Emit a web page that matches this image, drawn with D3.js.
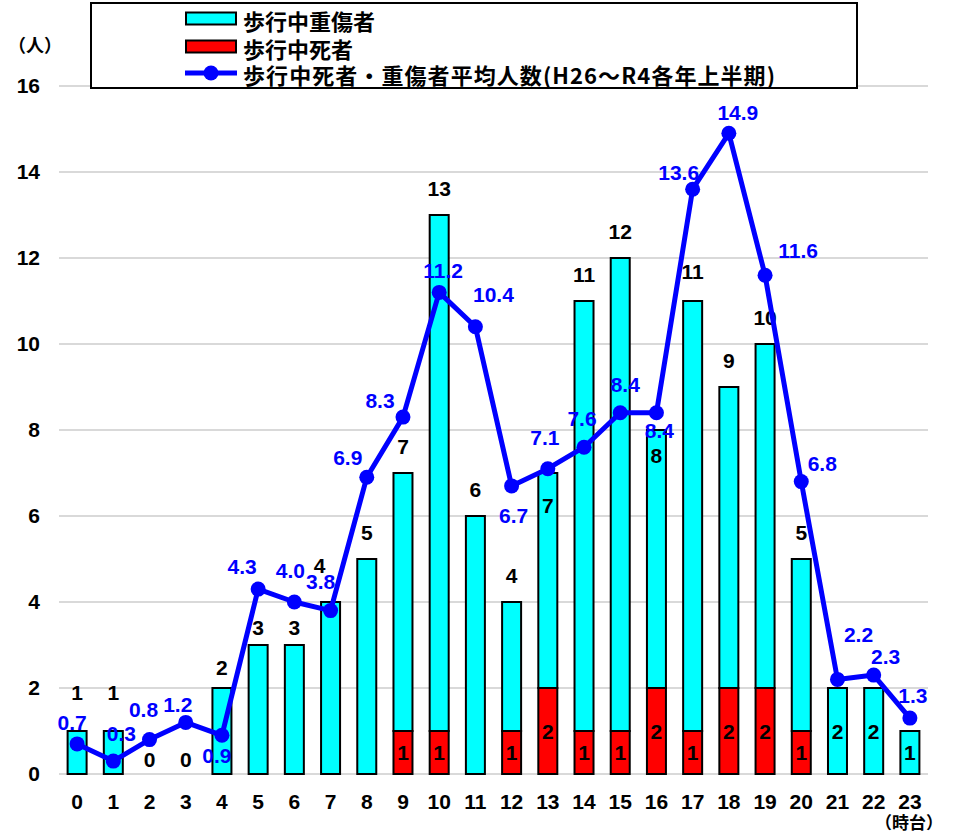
<script src="https://d3js.org/d3.v7.min.js"></script>
<html>
<head>
<style>
  body { margin: 0; background: #fff; }
  text { font-family: "Liberation Sans", Arial, sans-serif; font-weight: bold; }
  .jp { font-family: "Noto Sans CJK JP", sans-serif; font-weight: bold; }
</style>
</head>
<body>
<script>
// data: hour of day (0-23)
var hours = d3.range(0, 24);
var serious = [1, 1, 0, 0, 2, 3, 3, 4, 5, 6, 12, 6, 3, 5, 10, 11, 6, 10, 7, 8, 4, 2, 2, 1];
var deaths  = [0, 0, 0, 0, 0, 0, 0, 0, 0, 1, 1, 0, 1, 2, 1, 1, 2, 1, 2, 2, 1, 0, 0, 0];
var average = [0.7, 0.3, 0.8, 1.2, 0.9, 4.3, 4.0, 3.8, 6.9, 8.3, 11.2, 10.4, 6.7, 7.1, 7.6, 8.4, 8.4, 13.6, 14.9, 11.6, 6.8, 2.2, 2.3, 1.3];
var yTicks = [0, 2, 4, 6, 8, 10, 12, 14, 16];
var legendNames = ["歩行中重傷者", "歩行中死者", "歩行中死者・重傷者平均人数(H26～R4各年上半期)"];

// hand placed label nudges (px) as in the original sheet
var totalLabelDy = {0: -39, 1: -39, 2: -15, 3: -15, 4: -21, 5: -18, 6: -18, 7: -37, 13: 32, 16: 25, 17: -30};
var totalLabelDx = {7: -11};
var avgLabelNudge = [[-5,-21],[8,-28],[-6,-30],[-8,-18],[-5,20],[-16,-23],[-4,-32],[-10,-29],[-19,-20],[-23,-17],
  [4,-22],[18,-32],[2,30],[-3,-31],[-2,-29],[5,-28],[3,18],[-14,-17],[9,-21],[33,-25],[21,-18],[21,-45],[12,-19],[3,-23]];

var W = 964, H = 832;
var margin = {top: 86, left: 59, right: 36, bottom: 58};
var fs = 21;

var svg = d3.select("body").append("svg")
  .attr("width", W)
  .attr("height", H);

var x = d3.scaleBand()
  .domain(hours)
  .range([margin.left, W - margin.right])
  .paddingInner(0)
  .paddingOuter(0);

var y = d3.scaleLinear()
  .domain([0, 16])
  .range([H - margin.bottom, H - margin.bottom - 688]);

// gridlines
svg.append("g").selectAll("line")
  .data(yTicks)
  .enter().append("line")
  .attr("x1", x.range()[0])
  .attr("x2", x.range()[1])
  .attr("y1", function(d){ return y(d); })
  .attr("y2", function(d){ return y(d); })
  .attr("stroke", "#d9d9d9")
  .attr("stroke-width", 2);

// y axis labels
var yAx = d3.axisLeft(y).tickValues(yTicks).tickSize(0).tickPadding(0);
var yGroup = svg.append("g")
  .attr("transform", "translate(40,0)")
  .call(yAx);
yGroup.select(".domain").remove();
yGroup.selectAll("text")
  .attr("font-size", fs)
  .attr("font-family", "Liberation Sans, Arial, sans-serif")
  .attr("fill", "#000");

// x axis labels
var xAx = d3.axisBottom(x).tickSize(0).tickPadding(0);
var xGroup = svg.append("g")
  .attr("transform", "translate(0," + (y(0) + 20) + ")")
  .call(xAx);
xGroup.select(".domain").remove();
xGroup.selectAll("text")
  .attr("font-size", fs)
  .attr("font-family", "Liberation Sans, Arial, sans-serif")
  .attr("fill", "#000");

// stacked bars
var barW = 19;
var stack = hours.map(function(h, i){
  return {h: h, d: deaths[i], s: serious[i], total: deaths[i] + serious[i]};
});

var bars = svg.append("g");
bars.selectAll("rect.death")
  .data(stack.filter(function(d){ return d.d > 0; }))
  .enter().append("rect")
  .attr("class", "death")
  .attr("x", function(d){ return x(d.h) + x.bandwidth()/2 - barW/2; })
  .attr("y", function(d){ return y(d.d); })
  .attr("width", barW)
  .attr("height", function(d){ return y(0) - y(d.d); })
  .attr("fill", "#ff0000")
  .attr("stroke", "#000")
  .attr("stroke-width", 2);

bars.selectAll("rect.serious")
  .data(stack.filter(function(d){ return d.s > 0; }))
  .enter().append("rect")
  .attr("class", "serious")
  .attr("x", function(d){ return x(d.h) + x.bandwidth()/2 - barW/2; })
  .attr("y", function(d){ return y(d.total); })
  .attr("width", barW)
  .attr("height", function(d){ return y(d.d) - y(d.total); })
  .attr("fill", "#00ffff")
  .attr("stroke", "#000")
  .attr("stroke-width", 2);

// death count labels inside red segments
bars.selectAll("text.dl")
  .data(stack.filter(function(d){ return d.d > 0; }))
  .enter().append("text")
  .attr("class", "dl")
  .attr("x", function(d){ return x(d.h) + x.bandwidth()/2; })
  .attr("y", function(d){ return y(d.d / 2); })
  .attr("text-anchor", "middle")
  .attr("dominant-baseline", "central")
  .attr("font-size", fs)
  .text(function(d){ return d.d; });

// total labels
bars.selectAll("text.tl")
  .data(stack)
  .enter().append("text")
  .attr("class", "tl")
  .attr("x", function(d){ return x(d.h) + x.bandwidth()/2 + (totalLabelDx[d.h] || 0); })
  .attr("y", function(d){
    if (d.h >= 21) return y(d.total / 2);
    var dy = (d.h in totalLabelDy) ? totalLabelDy[d.h] : -27;
    return y(d.total) + dy;
  })
  .attr("text-anchor", "middle")
  .attr("dominant-baseline", "central")
  .attr("font-size", fs)
  .text(function(d){ return d.total; });

// average line
var line = d3.line()
  .x(function(d, i){ return x(hours[i]) + x.bandwidth()/2; })
  .y(function(d){ return y(d); });

svg.append("path")
  .datum(average)
  .attr("d", line)
  .attr("fill", "none")
  .attr("stroke", "#0000ff")
  .attr("stroke-width", 5)
  .attr("stroke-linejoin", "round");

svg.append("g").selectAll("circle")
  .data(average)
  .enter().append("circle")
  .attr("cx", function(d, i){ return x(hours[i]) + x.bandwidth()/2; })
  .attr("cy", function(d){ return y(d); })
  .attr("r", 7.5)
  .attr("fill", "#0000ff");

svg.append("g").selectAll("text")
  .data(average)
  .enter().append("text")
  .attr("x", function(d, i){ return x(hours[i]) + x.bandwidth()/2 + avgLabelNudge[i][0]; })
  .attr("y", function(d, i){ return y(d) + avgLabelNudge[i][1]; })
  .attr("text-anchor", "middle")
  .attr("dominant-baseline", "central")
  .attr("font-size", fs)
  .attr("fill", "#0000ff")
  .text(function(d){ return d.toFixed(1); });

// unit labels
svg.append("text")
  .attr("class", "jp")
  .attr("x", 8)
  .attr("y", 44)
  .attr("dominant-baseline", "central")
  .attr("font-size", 18)
  .text("（人）");

svg.append("text")
  .attr("class", "jp")
  .attr("x", 875)
  .attr("y", 821)
  .attr("dominant-baseline", "central")
  .attr("font-size", 17)
  .text("（時台）");

// legend
var legend = svg.append("g");
legend.append("rect")
  .attr("x", 91)
  .attr("y", 3)
  .attr("width", 766)
  .attr("height", 85)
  .attr("fill", "#fff")
  .attr("stroke", "#000")
  .attr("stroke-width", 2);

var rowY = [18.5, 46.5, 73];
legend.append("rect")
  .attr("x", 186).attr("y", rowY[0] - 6)
  .attr("width", 50).attr("height", 12)
  .attr("fill", "#00ffff").attr("stroke", "#000").attr("stroke-width", 2);
legend.append("rect")
  .attr("x", 186).attr("y", rowY[1] - 6)
  .attr("width", 50).attr("height", 12)
  .attr("fill", "#ff0000").attr("stroke", "#000").attr("stroke-width", 2);
legend.append("line")
  .attr("x1", 185).attr("x2", 237)
  .attr("y1", rowY[2]).attr("y2", rowY[2])
  .attr("stroke", "#0000ff").attr("stroke-width", 5);
legend.append("circle")
  .attr("cx", 211).attr("cy", rowY[2]).attr("r", 7.5)
  .attr("fill", "#0000ff");

legend.selectAll("text")
  .data(legendNames)
  .enter().append("text")
  .attr("class", "jp")
  .attr("x", 243)
  .attr("y", function(d, i){ return rowY[i] + 1; })
  .attr("dominant-baseline", "central")
  .attr("font-size", 22)
  .text(function(d){ return d; })
  .each(function(d, i){
    // stretch the long line to the width it has in the original
    if (i === 2) d3.select(this).attr("textLength", 532).attr("lengthAdjust", "spacing");
  });
</script>
</body>
</html>
